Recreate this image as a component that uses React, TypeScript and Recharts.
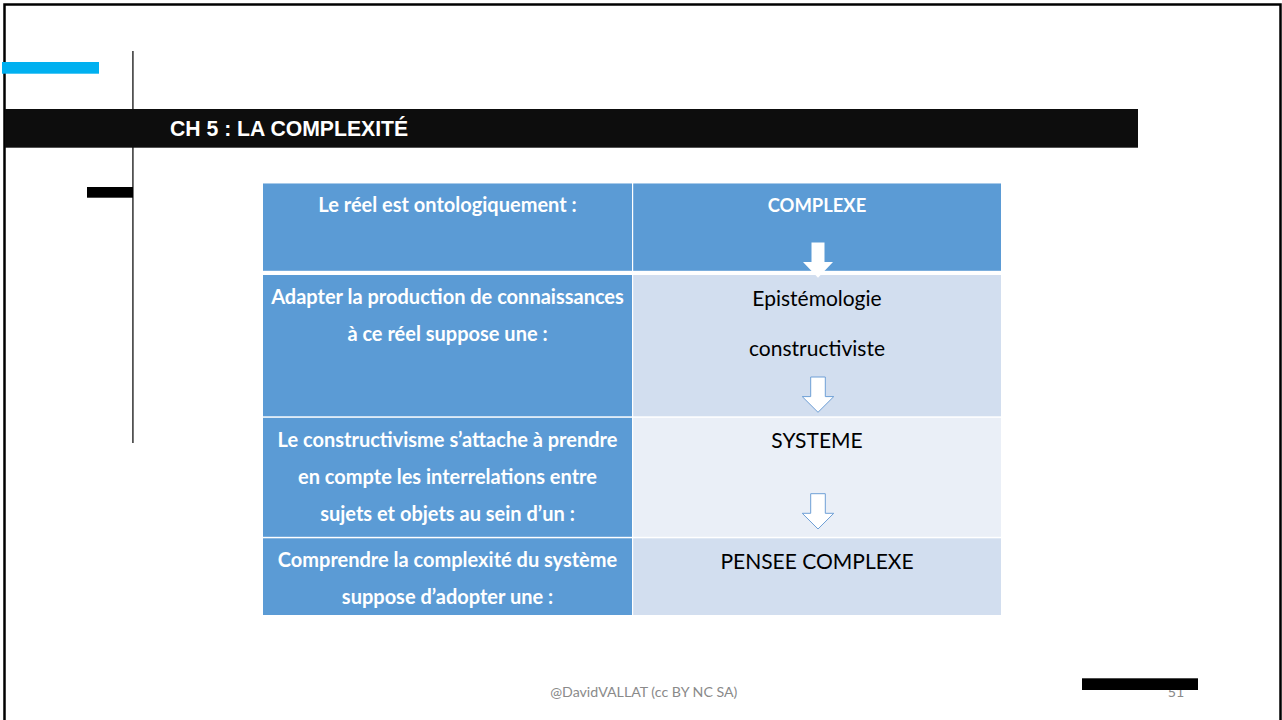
import { BarChart, Bar, XAxis, YAxis, Cell } from 'recharts';

// table layout: two columns, four rows of differing height
const columns = ['Constat', 'Conséquence'];
const rowKeys = ['r0', 'r1', 'r2', 'r3'];
const rowSpans = [87.5, 145.5, 120.5, 78.2];

const questionLines = [
  ['Le réel est ontologiquement :'],
  ['Adapter la production de connaissances', 'à ce réel suppose une :'],
  [
    'Le constructivisme s’attache à prendre',
    'en compte les interrelations entre',
    'sujets et objets au sein d’un :',
  ],
  ['Comprendre la complexité du système', 'suppose d’adopter une :'],
];

const answerLines = [
  ['COMPLEXE'],
  ['Epistémologie', 'constructiviste'],
  ['SYSTEME'],
  ['PENSEE COMPLEXE'],
];

const BLUE = '#5B9BD5';
const CELL_FILLS = [
  [BLUE, BLUE],
  [BLUE, '#D2DEEF'],
  [BLUE, '#EAEFF7'],
  [BLUE, '#D2DEEF'],
];

// arrow drawn at the top edge of a row (pointing from the row above)
// tipOffset: tip position relative to the row top; solid: white fill without outline
const ARROWS: Record<number, { tipOffset: number; solid: boolean }> = {
  1: { tipOffset: 6.9, solid: true },
  2: { tipOffset: -4, solid: false },
  3: { tipOffset: -7.8, solid: false },
};

const FONT = 'Lato, "Open Sans", sans-serif';
const total = rowSpans.reduce((a, b) => a + b, 0);

const tableData = columns.map((name) => {
  const d: Record<string, string | number> = { name };
  rowKeys.forEach((k, i) => (d[k] = rowSpans[i]));
  return d;
});

function Arrow({ cx, tip, solid }: { cx: number; tip: number; solid: boolean }) {
  const sw = solid ? 13 : 14.6;
  const hw = solid ? 30 : 31.5;
  const hl = 15.7;
  const sl = 19.6;
  const pts = [
    [cx - sw / 2, tip - hl - sl],
    [cx + sw / 2, tip - hl - sl],
    [cx + sw / 2, tip - hl],
    [cx + hw / 2, tip - hl],
    [cx, tip],
    [cx - hw / 2, tip - hl],
    [cx - sw / 2, tip - hl],
  ]
    .map((p) => p.join(','))
    .join(' ');
  return (
    <polygon
      points={pts}
      fill="#fff"
      stroke={solid ? 'none' : '#6E9FD6'}
      strokeWidth={1}
    />
  );
}

function TableCell(props: any) {
  const { x, y, width, height, index, row } = props;
  const top = Math.min(y, y + height);
  const h = Math.abs(height);
  const gapTop = row === 0 ? 0 : row === 1 ? 4.2 : 1.5;
  const gapLeft = index === 1 ? 1.2 : 0;
  const innerTop = top + gapTop;
  const cx = x + width / 2 + (index === 1 ? 0.5 : 0);
  const isQuestion = index === 0;
  const lines = isQuestion ? questionLines[row] : answerLines[row];
  const boldWhite = isQuestion || row === 0;
  const first = boldWhite ? 28.8 : 30.5;
  const step = isQuestion ? 37.3 : 50;
  const size = isQuestion ? 20 : row === 0 ? 18.4 : 21;
  const arrow = !isQuestion ? ARROWS[row] : undefined;

  return (
    <g>
      <rect
        x={x + gapLeft}
        y={innerTop}
        width={width - gapLeft}
        height={h - gapTop}
        fill={CELL_FILLS[row][index]}
      />
      {lines.map((line, i) => (
        <text
          key={i}
          x={cx}
          y={innerTop + first + i * step}
          textAnchor="middle"
          fontFamily={FONT}
          fontWeight={boldWhite ? 700 : 400}
          fontSize={size}
          fill={boldWhite ? '#fff' : '#000'}
        >
          {line}
        </text>
      ))}
      {arrow && <Arrow cx={cx + 1} tip={top + arrow.tipOffset} solid={arrow.solid} />}
    </g>
  );
}

function SlideFrame() {
  return (
    <svg width={1282} height={720} style={{ position: 'absolute', left: 0, top: 0 }}>
      <rect x={0} y={0} width={1282} height={720} fill="#fff" />
      {/* slide border */}
      <rect x={4.5} y={4.5} width={1276} height={760} fill="none" stroke="#000" strokeWidth={2.5} />
      <rect x={2} y={62} width={97} height={11.7} fill="#00B0F0" />
      <line x1={132.9} y1={51} x2={132.9} y2={443} stroke="#4A4A4A" strokeWidth={1.7} />
      <rect x={5} y={109} width={1133} height={38.7} fill="#0D0D0D" />
      <rect x={87} y={187} width={46} height={10.7} fill="#000" />
      <text
        x={170}
        y={135.7}
        fontFamily='"Liberation Sans", Arial, sans-serif'
        fontWeight={700}
        fontSize={21.2}
        fill="#fff"
      >
        CH 5 : LA COMPLEXITÉ
      </text>
      <text
        x={643.8}
        y={696.7}
        textAnchor="middle"
        fontFamily={FONT}
        fontSize={14.2}
        fill="#8A8A8A"
      >
        @DavidVALLAT (cc BY NC SA)
      </text>
      <text
        x={1184.3}
        y={697.3}
        textAnchor="end"
        fontFamily={FONT}
        fontSize={14.2}
        fill="#8A8A8A"
      >
        51
      </text>
      <rect x={1082} y={678.3} width={116} height={11.7} fill="#000" />
    </svg>
  );
}

export default function App() {
  return (
    <div
      style={{
        position: 'absolute',
        left: 0,
        top: 0,
        width: 1282,
        height: 720,
        overflow: 'hidden',
        background: '#fff',
      }}
    >
      <SlideFrame />
      <div style={{ position: 'absolute', left: 0, top: 0 }}>
        <BarChart
          width={1282}
          height={720}
          data={tableData}
          margin={{ top: 183.3, right: 281, bottom: 105, left: 263 }}
          barCategoryGap={0}
          barGap={0}
        >
          <XAxis dataKey="name" type="category" hide />
          <YAxis type="number" domain={[0, total]} reversed hide allowDataOverflow />
          {rowKeys.map((k, row) => (
            <Bar
              key={k}
              dataKey={k}
              stackId="table"
              isAnimationActive={false}
              shape={(p: any) => <TableCell {...p} row={row} />}
            >
              {tableData.map((_, col) => (
                <Cell key={col} fill={CELL_FILLS[row][col]} />
              ))}
            </Bar>
          ))}
        </BarChart>
      </div>
    </div>
  );
}
